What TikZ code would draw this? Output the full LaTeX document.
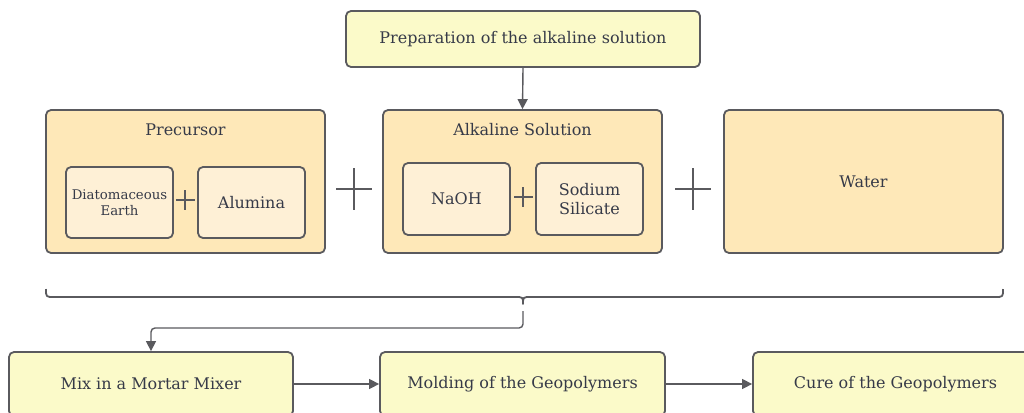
\documentclass[tikz,border=0pt]{standalone}
\usepackage{fontspec}
\setmainfont{DejaVu Serif}
\usetikzlibrary{arrows.meta}
\definecolor{txt}{HTML}{363A48}
\definecolor{edge}{HTML}{5A5A5E}
\definecolor{ylw}{HTML}{FBFAC9}
\definecolor{org}{HTML}{FEE8B8}
\definecolor{inr}{HTML}{FEF0D6}
\tikzset{
  box/.style={draw=edge, line width=1.8pt, rounded corners=5pt, text=txt, align=center, inner sep=0pt, font=\fontsize{16}{19}\selectfont},
  ybox/.style={box, fill=ylw},
  obox/.style={box, fill=org},
  ibox/.style={box, fill=inr, minimum width=107pt, minimum height=71pt},
  ttl/.style={text=txt, font=\fontsize{16}{19}\selectfont, inner sep=0pt},
  arr/.style={draw=edge, line width=1.4pt, -{Triangle[length=10pt,width=10pt]}},
  pl/.style={draw=edge, line width=2pt},
}
\begin{document}
\begin{tikzpicture}[x=1pt,y=-1pt]
\clip (0,0) rectangle (1024,412);
\fill[white] (0,0) rectangle (1024,412);
% top box
\node[ybox, minimum width=354pt, minimum height=56pt] (prep) at (523,39) {Preparation of the alkaline solution};
% group boxes
\node[obox, minimum width=279pt, minimum height=143pt] (prec) at (185.5,181.5) {};
\node[obox, minimum width=279pt, minimum height=143pt] (alk) at (522.5,181.5) {};
\node[obox, minimum width=279pt, minimum height=143pt] (water) at (863.5,181.5) {Water};
\node[ttl] (prect) at (185.5,130) {Precursor};
\node[ttl] (alkt) at (522.5,130) {Alkaline Solution};
% inner boxes
\node[ibox, font=\fontsize{13.3}{16}\selectfont] (diat) at (119.5,202.5) {Diatomaceous\\Earth};
\node[ibox] (alum) at (251.5,202.5) {Alumina};
\node[ibox, minimum height=72pt] (naoh) at (456.5,199) {NaOH};
\node[ibox, minimum height=72pt] (sodi) at (589.5,199) {Sodium\\Silicate};
% small plus signs
\draw[pl] (176,200) -- (195,200) (185,190) -- (185,210);
\draw[pl] (514,197) -- (533,197) (523,187) -- (523,207);
% big plus signs
\draw[pl] (336,189) -- (372,189) (354,168) -- (354,210);
\draw[pl] (675,189) -- (711,189) (693,168) -- (693,210);
% arrow top
\draw[arr] (prep.south) -- (alk.north);
% brace
\draw[draw=edge, line width=1.8pt, line join=round]
  (46,289) .. controls (46,297) .. (54,297) -- (515,297)
  .. controls (523,297) .. (523,304) .. controls (523,297) .. (531,297)
  -- (995,297) .. controls (1003,297) .. (1003,289);
\coordinate (bt) at (523,311);
% bottom boxes
\node[ybox, minimum width=284pt, minimum height=64pt] (mix) at (151,384) {Mix in a Mortar Mixer};
\node[ybox, minimum width=285pt, minimum height=64pt] (mold) at (522.5,384) {Molding of the Geopolymers};
\node[ybox, minimum width=285pt, minimum height=64pt] (cure) at (895.5,384) {Cure of the Geopolymers};
\draw[arr, rounded corners=4pt] (bt) -- ++(0,17) -| (mix.north);
\draw[arr] (mix.east) -- (mold.west);
\draw[arr] (mold.east) -- (cure.west);
\end{tikzpicture}
\end{document}
